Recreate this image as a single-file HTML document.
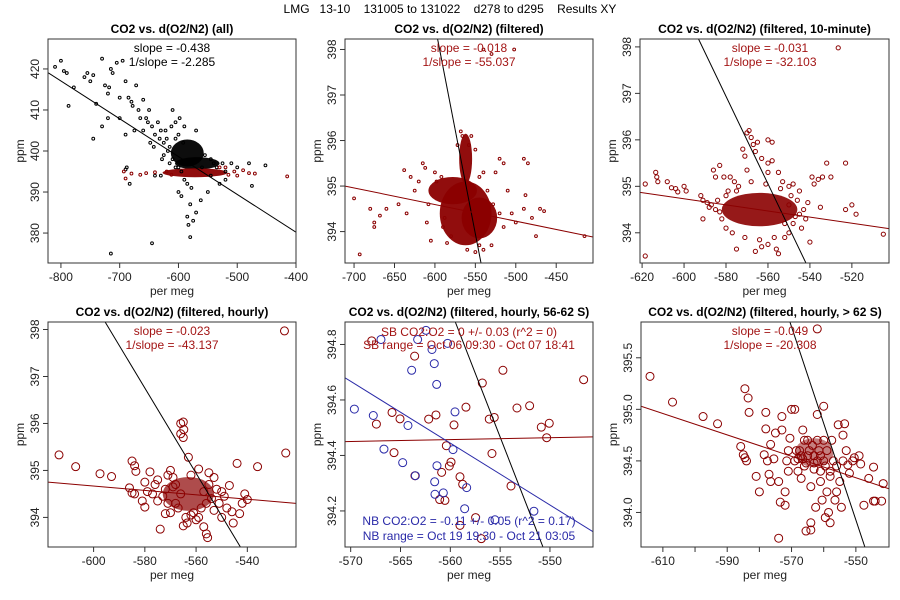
<!DOCTYPE html>
<html><head><meta charset="utf-8"><style>
body{margin:0;background:#fff}
svg{display:block;font-family:"Liberation Sans",Arial,sans-serif}
</style></head><body>
<svg id="chart" width="900" height="600" viewBox="0 0 900 600">
<rect width="900" height="600" fill="#fff"/>
<text x="450" y="13" text-anchor="middle" font-size="12" xml:space="preserve">LMG   13-10    131005 to 131022    d278 to d295    Results XY</text>
</svg>
<script>
// ---------- data ----------
const p1Black = [-810,420.5,-800,422,-795,419.5,-790,419,-787,411,-778,415.5,-760,418,-755,419,-750,417,-745,418.5,-740,411.5,-730,422.5,-725,416,-720,414,-718,415.5,-715,420,-712,419,-705,421.5,-700,413,-695,422,-690,417,-685,413,-680,412,-672,416,-668,410,-660,412.5,-655,408,-650,410,-645,406,-640,404,-635,407,-630,405,-625,402,-620,403,-615,401,-610,410,-605,407,-700,408,-690,404,-675,405,-660,405,-648,402,-720,408,-730,406,-745,403,-690,395.5,-688,396,-683,392,-640,394,-630,394,-600,390,-595,389,-590,393,-585,392,-580,387,-583,382,-585,384,-578,391,-570,385,-562,388,-580,379,-550,390,-545,394,-530,392,-520,395,-510,397,-500,396,-480,397,-475,391.5,-452,396.5,-645,377.5,-715,375,-575,383,-600,396,-610,398,-560,396,-540,397,-625,399,-570,405,-590,406,-600,404,-615,397,-555,399,-545,398,-520,393,-678,411,-665,408,-652,407,-642,401,-632,403,-622,405,-612,406,-605,403,-598,408,-592,402,-618,400,-628,398,-605,396,-595,395,-535,396,-525,397];
const p1Red = [-693,395,-690,393.3,-680,394.5,-665,394.2,-655,394.6,-640,394.8,-620,395,-530,396,-520,396,-505,395,-490,395.3,-480,394.6,-470,394.5,-415,393.8,-500,394,-612,394.2,-515,394.2];
const p2Red = [-700,394.73,-693,393.5,-680,394.5,-675,394.2,-675,394.1,-668,394.35,-660,394.5,-645,394.6,-638,395.35,-635,394.4,-630,395.2,-625,394.9,-615,395.5,-612,395.4,-610,394.2,-605,393.8,-520,395.6,-515,395.5,-490,395.6,-485,395.5,-488,394.8,-490,394.5,-480,394.3,-470,394.5,-465,394.45,-475,393.9,-500,394.2,-415,393.9,-502,398,-530,397.9,-540,398,-510,394.9,-505,394.4,-530,393.7,-540,393.6,-580,393.9,-590,394.1,-572,395.9,-568,396.2,-555,396.1,-550,395.8,-545,395.2,-540,395.3,-620,395.1,-600,395.3,-525,395.3,-535,394.9,-608,394.6,-598,395.1,-592,395.2,-588,394.3,-528,394.6,-520,394.4,-515,394.1,-585,393.75,-550,393.55,-560,393.6,-545,393.7,-566,396.1,-558,395.9];
const p3Red = [-618.5,395.05,-618.5,393.5,-613.5,395.3,-613,395.2,-612.5,395.1,-608,395.1,-606,394.97,-604,394.95,-603,394.88,-600,395,-599,394.9,-592,394.8,-591,394.7,-591,394.3,-589,394.65,-588,394.55,-586,395.35,-585,395.2,-583,395.45,-581,395.2,-580,394.1,-578,395.2,-576,395.1,-575,393.65,-572,395.8,-571,395.65,-570,396.15,-569,396.2,-568,396.05,-567,395.9,-566,395.75,-565,395.95,-563,395.6,-560,396,-558,395.95,-560,395.5,-558,395.55,-570,395.35,-566,393.6,-563,393.7,-560,393.75,-555,393.55,-556,393.65,-552,393.9,-550,394,-548,394.2,-545,394.4,-544,394.1,-542,394.3,-541,394.65,-540,393.8,-539,395.2,-538,395.05,-536,395.15,-535,394.55,-534,395.2,-532,395.5,-530,395.2,-523,395.5,-523,394.5,-520,394.6,-518,394.4,-526.5,397.98,-505,393.97,-545,394.9,-550,395,-553,395.1,-560,395.3,-575,394.9,-580,394.8,-585,394.5,-550,394.6,-584,394.7,-582,394.3,-579,394.9,-577,394.0,-574,395.0,-571,393.9,-568,395.1,-564,393.85,-561,395.05,-557,393.9,-554,394.95,-552,394.2,-549,394.8,-547,394.35,-546,394.7,-543,394.5,-587,394.6,-583,394.45,-555,395.3,-548,395.05];
const p4Red = [-613.5,395.33,-607,395.08,-597.5,394.93,-593,394.87,-585,395.2,-584,395.1,-583.5,394.98,-586,394.63,-585,394.52,-584,394.5,-581,394.35,-580,394.22,-578,394.97,-574,393.75,-572,394.08,-570,395.0,-566,396.0,-565,396.03,-564.8,395.87,-566,395.78,-565,395.7,-563,395.28,-559,395.03,-560,393.95,-557,393.8,-556,393.65,-555.5,393.57,-565,393.82,-563.5,393.88,-550,394.0,-548,394.2,-546,394.12,-545.5,393.88,-544,395.15,-543,394.08,-542,394.3,-541,394.5,-540,394.38,-536,395.08,-525.5,397.97,-525,395.37,-547,394.68,-550,394.55,-553,394.85,-552,394.6,-555,394.7,-556,394.3,-554,394.4,-570,394.1,-572,394.6,-575,394.8,-577,394.5,-576,394.7,-579,394.55,-580,394.75,-568,394.7,-568,394.3,-567,394.2,-566,394.5,-571,394.9,-569,394.85,-562,394.9,-558,394.2,-561,394.1,-559,394.0,-573,394.45,-571,394.3,-569,394.65,-557,394.55,-555,394.95,-551,394.3,-549,394.45,-553,394.15,-562,394.05,-564,394.0,-575,394.35];
const p5Red = [-567.89,394.813,-567.42,394.513,-565.85,394.555,-565.65,394.410,-565.05,394.532,-563.58,394.758,-563.55,394.327,-562.17,394.531,-561.44,394.546,-561.07,394.241,-560.87,394.339,-560.54,394.238,-560.40,394.435,-560.10,394.362,-559.93,394.376,-559.63,394.510,-559.03,394.323,-558.76,394.296,-558.43,394.574,-559.03,394.148,-557.46,394.176,-556.89,394.100,-556.79,394.661,-556.09,394.531,-555.82,394.407,-555.59,394.537,-554.72,394.707,-553.91,394.290,-553.31,394.571,-552.04,394.579,-550.87,394.502,-550.33,394.464,-550.07,394.516,-546.62,394.673];
const p5Blue = [-569.63,394.567,-567.73,394.544,-566.96,394.818,-566.66,394.423,-564.78,394.374,-564.25,394.508,-563.88,394.707,-563.51,394.327,-563.28,394.818,-562.44,394.851,-561.84,394.782,-561.61,394.731,-561.57,394.305,-561.37,394.656,-561.34,394.363,-561.54,394.260,-560.70,394.265,-560.27,394.804,-559.73,394.421,-559.53,394.557,-558.56,394.208,-558.36,394.284,-555.52,394.168,-551.61,394.199];
const p6Red = [-614,395.32,-607,395.07,-597.5,394.93,-593,394.86,-585.8,394.64,-585,394.56,-584.5,394.53,-584,394.50,-584.5,395.2,-583.5,395.11,-583.2,394.97,-581,394.35,-580,394.2,-578,394.97,-578.5,394.56,-578,394.81,-577.5,394.5,-577,394.37,-576.5,394.3,-576.5,394.66,-575,394.77,-575.5,394.52,-574,394.3,-573,394.8,-573,394.93,-572,394.2,-572,394.07,-571.5,394.5,-571,394.6,-570.5,394.72,-570,395.0,-569,395.0,-568.5,394.6,-568,394.4,-567,394.33,-566.5,394.8,-566,394.7,-565.5,393.82,-565,394.55,-564,393.9,-564,393.83,-564,394.25,-563.5,394.65,-563,394.48,-562.5,394.05,-562,394.95,-562,394.7,-561.5,394.6,-561,394.4,-561,394.3,-560.5,394.12,-560,395.03,-560,394.7,-559.5,393.95,-559,394.6,-559,394.2,-558.5,394.0,-558,393.9,-558,394.4,-557.5,394.7,-557,394.5,-556.5,394.12,-556,394.2,-555.5,394.85,-555,394.3,-554.5,394.05,-554,394.75,-554,394.5,-553.5,394.86,-553,394.6,-552.5,394.46,-552,394.38,-551,394.5,-550.5,394.53,-549,394.55,-548.5,394.47,-547.5,394.07,-546,394.33,-544.5,394.44,-544.5,394.11,-544,394.11,-542,394.11,-541.5,394.28,-571,394.4,-569,394.5,-567,394.55,-566,394.45,-565,394.7,-564.5,394.6,-563,394.55,-562,394.5,-561,394.55,-560,394.5,-559.5,394.45,-567.5,394.6,-566.5,394.52,-565.5,394.48,-568,394.52,-563,394.42,-558,394.35,-556,394.45,-573.5,394.1,-574,393.75,-562,395.78];
// dense cores: [cx, cy, rx, ry]
const p1Cores = [[-585,399.5,28,3.3],[-568,397,38,1.5]];
const p1RedCores = [[-572,394.7,55,1.1]];
const p2Cores = [[-562,394.4,32,0.7],[-562,395.6,8,0.55],[-578,394.9,30,0.3],[-545,394.3,22,0.45]];
const p3Cores = [[-564,394.5,18,0.36]];
const p4Cores = [[-563,394.5,10,0.36]];
const p6Cores = [[-563,394.58,6,0.14]];
// fit lines: [x1,y1,x2,y2]
const p1Lines = [[-822,419.1,-400,380.2]];
const p2Lines = [[-596.7,398.23,-543,393.31],[-711.2,395.0,-404.5,393.88]];
const p3Lines = [[-593.1,398.17,-541.9,393.35],[-621,394.87,-502.3,394.09]];
const p4Lines = [[-595.5,398.16,-542.7,393.37],[-617.8,394.75,-521,394.30]];
const p5Lines = [[-559.5,394.881,-550.7,394.07],[-570.57,394.45,-545.68,394.467],[-570.57,394.68,-545.68,394.125]];
const p6Lines = [[-570.5,395.847,-547.2,393.665],[-616.8,395.03,-539.7,394.23]];
// ticks
const p1XTicks=[-800,-700,-600,-500,-400], p1YTicks=[380,390,400,410,420];
const p2XTicks=[-700,-650,-600,-550,-500,-450], p2YTicks=[394,395,396,397,398];
const p3XTicks=[-620,-600,-580,-560,-540,-520], p3YTicks=[394,395,396,397,398];
const p4XTicks=[-600,-580,-560,-540], p4YTicks=[394,395,396,397,398];
const p5XTicks=[-570,-565,-560,-555,-550], p5YTicks=[394.2,394.4,394.6,394.8];
const p6XTicks=[-610,-600,-590,-580,-570,-560,-550], p6YTicks=[394.0,394.5,395.0,395.5];
const p6XLabels=["-610","","-590","","-570","","-550"];
const p6YLabels=["394.0","394.5","395.0","395.5"];

const RED="#8b0000", TRED="#a31515", BLUE="#2a2aa8";
const NS="http://www.w3.org/2000/svg";
const svg=document.getElementById('chart');
function mk(tag,attrs,parent){const e=document.createElementNS(NS,tag);for(const k in attrs)e.setAttribute(k,attrs[k]);(parent||svg).appendChild(e);return e;}

const panels=[
 {id:1,title:"CO2 vs. d(O2/N2) (all)",L:48,T:39,W:248,H:224,xd:[-822,-400],yd:[372.7,427.3],xt:p1XTicks,yt:p1YTicks,
  cores:[[p1Cores,"#000",0.95],[p1RedCores,RED,0.95]],pts:[[p1Black,"#000",1.4],[p1Red,RED,1.4]],lines:p1Lines,lc:["#000"],
  txt:[["slope = -0.438",172,52,"#000"],["1/slope = -2.285",172,66,"#000"]]},
 {id:2,title:"CO2 vs. d(O2/N2) (filtered)",L:345,T:39,W:248,H:224,xd:[-711.2,-404.5],yd:[393.31,398.23],xt:p2XTicks,yt:p2YTicks,
  cores:[[p2Cores,RED,0.95]],pts:[[p2Red,RED,1.4]],lines:p2Lines,lc:["#000",RED],
  txt:[["slope = -0.018",469,52,TRED],["1/slope = -55.037",469,66,TRED]]},
 {id:3,title:"CO2 vs. d(O2/N2) (filtered, 10-minute)",L:640,T:39,W:249,H:224,xd:[-621,-502.3],yd:[393.35,398.17],xt:p3XTicks,yt:p3YTicks,
  cores:[[p3Cores,RED,0.9]],pts:[[p3Red,RED,2.1]],lines:p3Lines,lc:["#000",RED],
  txt:[["slope = -0.031",770,52,TRED],["1/slope = -32.103",770,66,TRED]]},
 {id:4,title:"CO2 vs. d(O2/N2) (filtered, hourly)",L:48,T:322,W:248,H:225,xd:[-617.8,-521],yd:[393.37,398.16],xt:p4XTicks,yt:p4YTicks,
  cores:[[p4Cores,RED,0.7]],pts:[[p4Red,RED,4]],lines:p4Lines,lc:["#000",RED],
  txt:[["slope = -0.023",172,335,TRED],["1/slope = -43.137",172,349,TRED]]},
 {id:5,title:"CO2 vs. d(O2/N2) (filtered, hourly, 56-62 S)",L:345,T:322,W:248,H:225,xd:[-570.57,-545.68],yd:[394.07,394.881],xt:p5XTicks,yt:p5YTicks,
  cores:[],pts:[[p5Red,RED,4],[p5Blue,BLUE,4]],lines:p5Lines,lc:["#000",RED,BLUE],
  txt:[["SB CO2:O2 = 0 +/- 0.03 (r^2 = 0)",469,336,TRED],["SB range = Oct 06 09:30 - Oct 07 18:41",469,349,TRED],
       ["NB CO2:O2 = -0.11 +/- 0.05 (r^2 = 0.17)",469,525,BLUE],["NB range = Oct 19 19:30 - Oct 21 03:05",469,540,BLUE]]},
 {id:6,title:"CO2 vs. d(O2/N2) (filtered, hourly, > 62 S)",L:641,T:322,W:248,H:225,xd:[-616.8,-539.7],yd:[393.665,395.847],xt:p6XTicks,yt:p6YTicks,xl:p6XLabels,yl:p6YLabels,
  cores:[[p6Cores,RED,0.5]],pts:[[p6Red,RED,4]],lines:p6Lines,lc:["#000",RED],
  txt:[["slope = -0.049",770,335,TRED],["1/slope = -20.308",770,349,TRED]]}
];

panels.forEach(p=>{
  const g=mk('g',{});
  
  
  const sx=v=>p.L+(v-p.xd[0])/(p.xd[1]-p.xd[0])*p.W;
  const sy=v=>p.T+p.H-(v-p.yd[0])/(p.yd[1]-p.yd[0])*p.H;
  const cx=p.L+p.W/2;
  const t=mk('text',{x:cx,y:p.T-6,'text-anchor':'middle','font-size':12,'font-weight':'bold'},g);
  t.textContent=p.title;
  
  
  const cp=mk('clipPath',{id:'c'+p.id},g);
  mk('rect',{x:p.L,y:p.T,width:p.W,height:p.H},cp);
  const plot=mk('g',{'clip-path':'url(#c'+p.id+')'},g);
  
  
  p.cores.forEach(([arr,col,op])=>arr.forEach(c=>{
    const e=mk('ellipse',{cx:sx(c[0]),cy:sy(c[1]),rx:Math.abs(sx(c[0]+c[2])-sx(c[0])),ry:Math.abs(sy(c[1]+c[3])-sy(c[1])),fill:col,opacity:op},plot);
    
    
  }));
  p.pts.forEach(([arr,col,r])=>{
    for(let i=0;i<arr.length;i+=2){
      const c=mk('circle',{cx:sx(arr[i]),cy:sy(arr[i+1]),r:r,fill:'none',stroke:col,'stroke-width':1},plot);
      
      
    }
  });
  p.lines.forEach((l,i)=>{
    const e=mk('line',{x1:sx(l[0]),y1:sy(l[1]),x2:sx(l[2]),y2:sy(l[3]),stroke:p.lc[i],'stroke-width':1},plot);
    
    
  });
  const b=mk('rect',{x:p.L,y:p.T,width:p.W,height:p.H,fill:'none',stroke:'#333','stroke-width':1},g);
  
  
  const xb=p.T+p.H;
  mk('line',{x1:sx(p.xt[0]),y1:xb,x2:sx(p.xt[p.xt.length-1]),y2:xb,stroke:'#333'},g);
  p.xt.forEach((v,i)=>{
    mk('line',{x1:sx(v),y1:xb,x2:sx(v),y2:xb+5,stroke:'#333'},g);
    const lab=p.xl?p.xl[i]:String(v);
    if(lab){const tt=mk('text',{x:sx(v),y:xb+18,'text-anchor':'middle','font-size':12,fill:'#222'},g);tt.textContent=lab;
      
      }
  });
  mk('line',{x1:p.L,y1:sy(p.yt[0]),x2:p.L,y2:sy(p.yt[p.yt.length-1]),stroke:'#333'},g);
  p.yt.forEach((v,i)=>{
    mk('line',{x1:p.L-5,y1:sy(v),x2:p.L,y2:sy(v),stroke:'#333'},g);
    const lab=p.yl?p.yl[i]:String(v);
    const yy=sy(v), xx=p.L-9;
    const tt=mk('text',{x:xx,y:yy,'text-anchor':'middle','font-size':12,fill:'#222',transform:`rotate(-90 ${xx} ${yy})`},g);
    tt.textContent=lab;
    
    
  });
  const xa=mk('text',{x:cx,y:xb+32,'text-anchor':'middle','font-size':12,fill:'#222'},g);
  xa.textContent='per meg';
  
  
  const yx=p.L-24, yy=p.T+p.H/2;
  const ya=mk('text',{x:yx,y:yy,'text-anchor':'middle','font-size':12,fill:'#222',transform:`rotate(-90 ${yx} ${yy})`},g);
  ya.textContent='ppm';
  
  
  p.txt.forEach(a=>{
    const e=mk('text',{x:a[1],y:a[2],'text-anchor':'middle','font-size':12,fill:a[3]},g);
    e.textContent=a[0];
    
    
  });
});
</script>
</body></html>
